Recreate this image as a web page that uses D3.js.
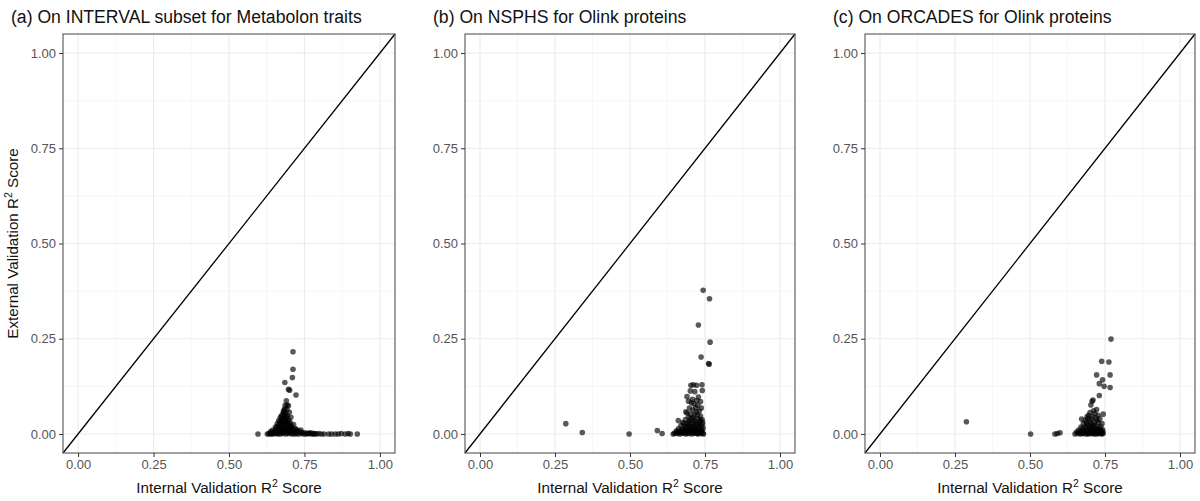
<!DOCTYPE html>
<html>
<head>
<meta charset="utf-8">
<script src="https://cdn.jsdelivr.net/npm/d3@7"></script>
<style>
  body { margin: 0; background: #fff; }
  svg { font-family: "Liberation Sans", Arial, sans-serif; }
</style>
</head>
<body>
<svg width="1200" height="501"></svg>
<script>
// panel titles
const TITLES = [
  "(a) On INTERVAL subset for Metabolon traits",
  "(b) On NSPHS for Olink proteins",
  "(c) On ORCADES for Olink proteins"
];

const MAJOR_TICKS = [0, 0.25, 0.5, 0.75, 1];
const MINOR_TICKS = [0.125, 0.375, 0.625, 0.875];

// [internal R2, external R2] per trait
const intervalPoints = [
  [0.712,0.216],[0.712,0.170],[0.710,0.148],[0.685,0.135],[0.697,0.117],[0.701,0.115],
  [0.722,0.102],[0.690,0.087],[0.693,0.076],[0.686,0.075],[0.697,0.074],[0.685,0.066],
  [0.692,0.064],[0.680,0.058],[0.688,0.055],[0.700,0.057],[0.676,0.050],[0.683,0.048],
  [0.694,0.047],[0.705,0.044],[0.670,0.043],[0.679,0.040],[0.688,0.038],[0.698,0.036],
  [0.665,0.035],[0.674,0.033],[0.684,0.030],[0.693,0.028],[0.703,0.029],[0.714,0.025],
  [0.660,0.027],[0.668,0.024],[0.678,0.022],[0.688,0.020],[0.697,0.018],[0.707,0.016],
  [0.720,0.014],[0.654,0.018],[0.662,0.015],[0.672,0.013],[0.682,0.012],[0.692,0.010],
  [0.702,0.008],[0.713,0.007],[0.726,0.008],[0.738,0.010],[0.645,0.010],[0.650,0.006],
  [0.658,0.005],[0.667,0.006],[0.676,0.004],[0.686,0.004],[0.696,0.003],[0.706,0.003],
  [0.716,0.002],[0.728,0.003],[0.640,0.003],[0.632,0.001],[0.627,0.000],[0.636,0.000],
  [0.645,0.000],[0.653,0.001],[0.661,0.000],[0.670,0.000],[0.679,0.001],[0.689,0.000],
  [0.699,0.001],[0.709,0.000],[0.719,0.000],[0.730,0.000],[0.740,0.001],[0.748,0.000],
  [0.757,0.000],[0.765,0.001],[0.773,0.000],[0.781,0.000],[0.790,0.000],[0.797,0.001],
  [0.806,0.000],[0.815,0.000],[0.830,0.000],[0.840,0.000],[0.852,0.000],[0.862,0.000],
  [0.872,0.001],[0.885,0.000],[0.895,0.001],[0.902,0.000],[0.925,0.000],[0.596,0.000],
  [0.672,0.018],[0.681,0.026],[0.664,0.009],[0.694,0.014],[0.686,0.033],[0.677,0.008],
  [0.668,0.031],[0.673,0.046],[0.681,0.053],[0.690,0.042],[0.699,0.024],[0.706,0.021],
  [0.711,0.012],[0.718,0.006],[0.724,0.011],[0.733,0.006],[0.742,0.004],[0.752,0.003],
  [0.761,0.002],[0.769,0.003],[0.777,0.002],[0.785,0.001],[0.656,0.012],[0.660,0.020],
  [0.666,0.016],[0.675,0.028],[0.684,0.016],[0.691,0.005],[0.700,0.012],[0.648,0.004],
  [0.638,0.006],[0.642,0.001],[0.651,0.003],[0.659,0.002],[0.669,0.003],[0.680,0.006],
  [0.688,0.008],[0.703,0.019],[0.695,0.032],[0.678,0.036],[0.689,0.047],[0.682,0.062]
];

const nsphsPoints = [
  [0.744,0.377],[0.765,0.355],[0.728,0.286],[0.767,0.241],[0.737,0.202],[0.762,0.185],
  [0.764,0.183],[0.703,0.128],[0.711,0.129],[0.722,0.128],[0.740,0.129],[0.701,0.113],
  [0.716,0.111],[0.741,0.114],[0.690,0.098],[0.728,0.097],[0.705,0.082],[0.713,0.079],
  [0.698,0.068],[0.719,0.069],[0.731,0.060],[0.661,0.035],[0.497,0.000],[0.591,0.009],
  [0.607,0.001],[0.286,0.027],[0.341,0.004],
  [0.690,0.055],[0.702,0.052],[0.725,0.050],[0.735,0.047],[0.695,0.045],[0.712,0.043],
  [0.728,0.040],[0.740,0.038],[0.685,0.038],[0.700,0.036],[0.718,0.034],[0.733,0.031],
  [0.676,0.030],[0.692,0.028],[0.708,0.027],[0.724,0.025],[0.742,0.024],[0.670,0.022],
  [0.684,0.020],[0.699,0.019],[0.714,0.018],[0.730,0.017],[0.744,0.015],[0.662,0.014],
  [0.676,0.013],[0.690,0.012],[0.705,0.011],[0.720,0.010],[0.736,0.009],[0.655,0.008],
  [0.668,0.007],[0.681,0.006],[0.695,0.006],[0.710,0.005],[0.725,0.004],[0.740,0.005],
  [0.648,0.002],[0.658,0.001],[0.667,0.000],[0.676,0.002],[0.686,0.000],[0.696,0.001],
  [0.706,0.000],[0.716,0.002],[0.726,0.000],[0.735,0.001],[0.745,0.000],[0.644,0.000],
  [0.653,0.004],[0.663,0.003],[0.673,0.004],[0.683,0.003],[0.693,0.003],[0.703,0.004],
  [0.713,0.003],[0.723,0.002],[0.733,0.003],[0.743,0.002],
  [0.708,0.091],[0.722,0.088],[0.735,0.085],[0.695,0.086],[0.726,0.075],[0.709,0.063],
  [0.738,0.068],[0.686,0.058],[0.721,0.058],[0.715,0.050],[0.697,0.031],[0.704,0.041],
  [0.713,0.035],[0.721,0.027],[0.730,0.024],[0.737,0.020],[0.680,0.027],[0.688,0.017],
  [0.702,0.014],[0.711,0.022],[0.727,0.013],[0.739,0.011],[0.672,0.011],[0.683,0.009],
  [0.698,0.009],[0.716,0.008],[0.731,0.007],[0.661,0.006],[0.675,0.007],[0.689,0.004],
  [0.718,0.014],[0.707,0.018],[0.694,0.022],[0.734,0.036],[0.742,0.031]
];

const orcadesPoints = [
  [0.770,0.249],[0.739,0.191],[0.763,0.189],[0.722,0.155],[0.767,0.155],[0.742,0.142],
  [0.731,0.132],[0.747,0.125],[0.767,0.122],[0.731,0.101],[0.710,0.089],[0.707,0.086],
  [0.703,0.076],[0.722,0.064],[0.712,0.061],[0.744,0.052],[0.700,0.056],[0.695,0.049],
  [0.690,0.045],[0.672,0.039],[0.288,0.032],[0.502,0.000],[0.583,0.000],[0.591,0.001],
  [0.600,0.003],
  [0.708,0.046],[0.720,0.042],[0.733,0.040],[0.684,0.036],[0.699,0.034],[0.715,0.031],
  [0.728,0.029],[0.740,0.027],[0.678,0.027],[0.692,0.024],[0.706,0.022],[0.721,0.021],
  [0.736,0.019],[0.670,0.018],[0.684,0.016],[0.698,0.015],[0.712,0.013],[0.727,0.012],
  [0.742,0.011],[0.662,0.010],[0.676,0.009],[0.690,0.008],[0.704,0.008],[0.718,0.007],
  [0.732,0.006],[0.655,0.005],[0.668,0.004],[0.682,0.004],[0.696,0.003],[0.710,0.003],
  [0.724,0.002],[0.738,0.003],[0.650,0.000],[0.659,0.001],[0.668,0.000],[0.677,0.001],
  [0.686,0.000],[0.695,0.000],[0.704,0.001],[0.713,0.000],[0.722,0.000],[0.731,0.001],
  [0.740,0.000],[0.744,0.002],
  [0.716,0.053],[0.727,0.049],[0.706,0.039],[0.693,0.040],[0.712,0.024],[0.724,0.036],
  [0.703,0.028],[0.688,0.030],[0.730,0.014],[0.716,0.017],[0.701,0.019],[0.687,0.021],
  [0.675,0.014],[0.694,0.011],[0.708,0.012],[0.722,0.009],[0.736,0.008],[0.665,0.006],
  [0.680,0.007],[0.699,0.005],[0.715,0.005],[0.728,0.005],[0.742,0.006],[0.673,0.002],
  [0.691,0.002],[0.707,0.002],[0.719,0.004],[0.734,0.002]
];

const PANEL_DATA = [intervalPoints, nsphsPoints, orcadesPoints];

// layout
const PANELS = [
  {left: 63, right: 395, titleX: 11},
  {left: 465, right: 795, titleX: 433},
  {left: 865, right: 1195, titleX: 833}
];
const TOP = 34, BOTTOM = 453;
const DOMAIN = [-0.05, 1.05];

const svg = d3.select('svg');

PANELS.forEach((p, i) => {
  const x = d3.scaleLinear().domain(DOMAIN).range([p.left, p.right]);
  const y = d3.scaleLinear().domain(DOMAIN).range([BOTTOM, TOP]);
  const g = svg.append('g');

  // grid
  g.selectAll('.minorx').data(MINOR_TICKS).enter().append('line')
    .attr('x1', d => x(d)).attr('x2', d => x(d))
    .attr('y1', TOP).attr('y2', BOTTOM)
    .attr('stroke', '#f2f2f2').attr('stroke-width', 0.7);
  g.selectAll('.minory').data(MINOR_TICKS).enter().append('line')
    .attr('y1', d => y(d)).attr('y2', d => y(d))
    .attr('x1', p.left).attr('x2', p.right)
    .attr('stroke', '#f2f2f2').attr('stroke-width', 0.7);
  g.selectAll('.majorx').data(MAJOR_TICKS).enter().append('line')
    .attr('x1', d => x(d)).attr('x2', d => x(d))
    .attr('y1', TOP).attr('y2', BOTTOM)
    .attr('stroke', '#ebebeb').attr('stroke-width', 1.1);
  g.selectAll('.majory').data(MAJOR_TICKS).enter().append('line')
    .attr('y1', d => y(d)).attr('y2', d => y(d))
    .attr('x1', p.left).attr('x2', p.right)
    .attr('stroke', '#ebebeb').attr('stroke-width', 1.1);

  // points
  g.selectAll('circle').data(PANEL_DATA[i]).enter().append('circle')
    .attr('cx', d => x(d[0]))
    .attr('cy', d => y(d[1]))
    .attr('r', 2.8)
    .attr('fill', '#000')
    .attr('fill-opacity', 0.65);

  // identity line
  g.append('line')
    .attr('x1', x(DOMAIN[0])).attr('y1', y(DOMAIN[0]))
    .attr('x2', x(DOMAIN[1])).attr('y2', y(DOMAIN[1]))
    .attr('stroke', '#000').attr('stroke-width', 1.3);

  // border
  g.append('rect')
    .attr('x', p.left).attr('y', TOP)
    .attr('width', p.right - p.left).attr('height', BOTTOM - TOP)
    .attr('fill', 'none').attr('stroke', '#555').attr('stroke-width', 1.1);

  // axes
  const fmt = d3.format('.2f');
  const xAxis = g.append('g')
    .attr('transform', `translate(0,${BOTTOM})`)
    .call(d3.axisBottom(x).tickValues(MAJOR_TICKS).tickFormat(fmt).tickSize(4).tickPadding(3));
  const yAxis = g.append('g')
    .attr('transform', `translate(${p.left},0)`)
    .call(d3.axisLeft(y).tickValues(MAJOR_TICKS).tickFormat(fmt).tickSize(4).tickPadding(3));
  [xAxis, yAxis].forEach(a => {
    a.select('.domain').remove();
    a.selectAll('line').attr('stroke', '#333');
    a.selectAll('text').attr('fill', '#555').style('font-size', '13px')
      .style('font-family', '"Liberation Sans", Arial, sans-serif');
  });

  // title
  svg.append('text')
    .attr('x', p.titleX).attr('y', 23)
    .style('font-size', '17.6px')
    .attr('fill', '#111')
    .text(TITLES[i]);

  // x axis title
  const xt = svg.append('text')
    .attr('x', (p.left + p.right) / 2).attr('y', 493)
    .attr('text-anchor', 'middle')
    .style('font-size', '15.2px')
    .attr('fill', '#111');
  xt.append('tspan').text('Internal Validation R');
  xt.append('tspan').attr('dy', -6).style('font-size', '10.5px').text('2');
  xt.append('tspan').attr('dy', 6).text(' Score');
});

// y axis title (first panel only)
const yt = svg.append('text')
  .attr('transform', `translate(18,${(TOP + BOTTOM) / 2}) rotate(-90)`)
  .attr('text-anchor', 'middle')
  .style('font-size', '15.2px')
  .attr('fill', '#111');
yt.append('tspan').text('External Validation R');
yt.append('tspan').attr('dy', -6).style('font-size', '10.5px').text('2');
yt.append('tspan').attr('dy', 6).text(' Score');
</script>
</body>
</html>
